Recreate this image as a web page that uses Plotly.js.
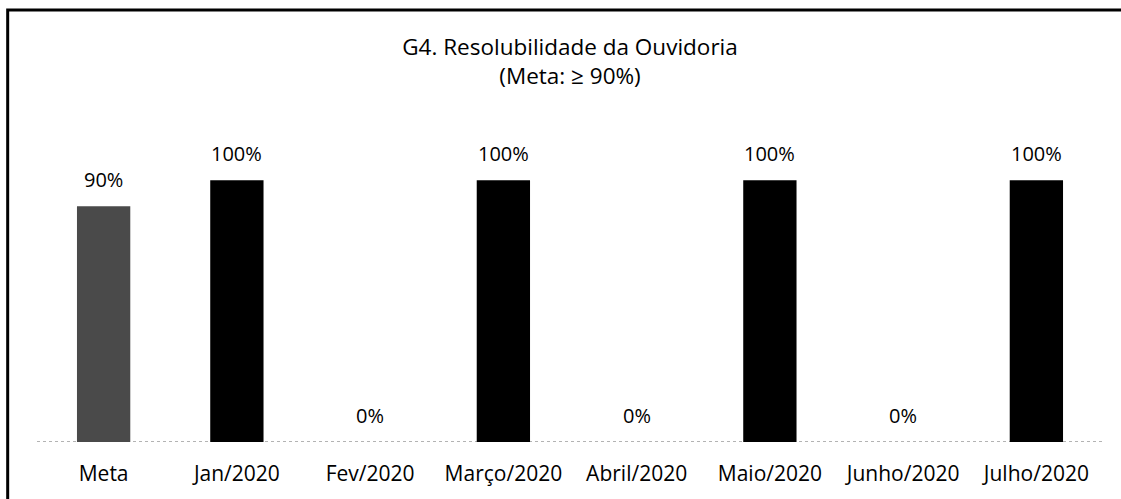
<!DOCTYPE html>
<html>
<head>
<meta charset="utf-8">
<script src="https://cdn.plot.ly/plotly-3.0.1.min.js"></script>
<style>html,body{margin:0;padding:0;background:#fff;}#chart{width:1121px;height:499px;}</style>
</head>
<body>
<div id="chart"></div>
<script>
const categories = ["Meta", "Jan/2020", "Fev/2020", "Março/2020", "Abril/2020", "Maio/2020", "Junho/2020", "Julho/2020"];
const values = [0.90, 1.00, 0.00, 1.00, 0.00, 1.00, 0.00, 1.00];
const labels = ["90%", "100%", "0%", "100%", "0%", "100%", "0%", "100%"];
const barColors = ["#4a4a4a", "#000000", "#000000", "#000000", "#000000", "#000000", "#000000", "#000000"];
const titleText = "G4. Resolubilidade da Ouvidoria<br>(Meta: ≥ 90%)";

const FONT = "Open Sans, sans-serif";

const trace = {
  type: "bar",
  x: categories,
  y: values,
  marker: {color: barColors, line: {width: 0}},
  hoverinfo: "x+y"
};

const annotations = categories.map((c, i) => ({
  x: c, y: values[i], xref: "x", yref: "y",
  text: labels[i], showarrow: false,
  yanchor: "bottom", yshift: 11,
  font: {family: FONT, size: 20, color: "#000"}
}));

const layout = {
  width: 1121, height: 499,
  margin: {l: 37, r: 18, t: 154, b: 57},
  paper_bgcolor: "#fff", plot_bgcolor: "#fff",
  bargap: 0.6,
  showlegend: false,
  title: {
    text: titleText,
    x: 0.5, xanchor: "center", xref: "paper",
    y: 0.89, yanchor: "top", yref: "container",
    font: {family: FONT, size: 22.5, color: "#000"}
  },
  xaxis: {
    type: "category",
    range: [-0.5, 7.5],
    showline: false, showgrid: false, zeroline: false,
    ticks: "", ticklen: 0,
    ticklabelstandoff: 17,
    tickfont: {family: FONT, size: 21, color: "#000"}
  },
  yaxis: {
    range: [0, 1.1],
    visible: false, showgrid: false, zeroline: false
  },
  annotations: annotations,
  shapes: [
    {type: "line", xref: "x", yref: "y", x0: -0.5, x1: 7.5, y0: 0, y1: 0,
     line: {color: "#9a9a9a", width: 1.5, dash: "dot"}, layer: "below"},
    {type: "rect", xref: "paper", yref: "paper", x0: -0.0275, x1: 1.2, y0: -0.5, y1: 1.5,
     line: {color: "#000", width: 3}, fillcolor: "rgba(0,0,0,0)"}
  ]
};

Plotly.newPlot("chart", [trace], layout, {displayModeBar: false, staticPlot: true});
</script>
</body>
</html>
